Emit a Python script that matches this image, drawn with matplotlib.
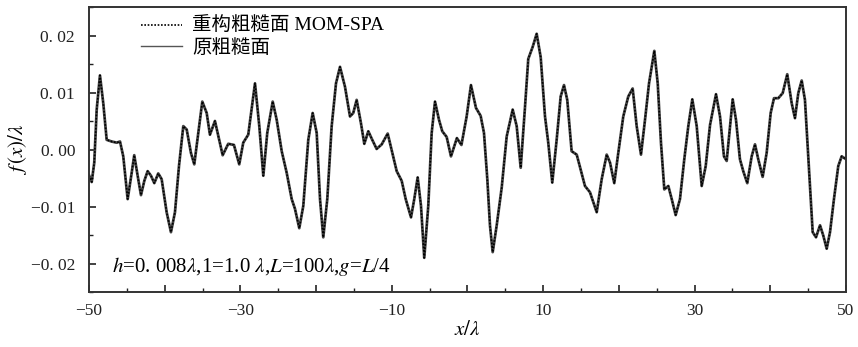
import numpy as np
import matplotlib
matplotlib.use('Agg')
import matplotlib.pyplot as plt
from matplotlib.ticker import MultipleLocator, FuncFormatter

plt.rcParams['font.family'] = ['Liberation Serif', 'Noto Sans CJK SC']
plt.rcParams['mathtext.fontset'] = 'stix'

# surface profile (x in units of lambda, f(x)/lambda)
x_pos = [-50.0, -49.64, -49.30, -48.98, -48.55, -48.11, -47.66, -47.00, -46.34, -45.90,
         -45.47, -44.89, -44.36, -44.02, -43.57, -43.13, -42.69, -42.25, -41.81, -41.37,
         -40.85, -40.40, -39.74, -39.17, -38.64, -38.11, -37.54, -37.09, -36.53, -36.09,
         -35.56, -35.03, -34.45, -34.02, -33.36, -32.34, -31.60, -30.85, -30.15, -29.62,
         -28.96, -28.07, -27.50, -26.97, -26.45, -25.73, -25.20, -24.54, -23.88, -23.22,
         -22.79, -22.22, -21.69, -21.03, -20.45, -19.92, -19.48, -19.05, -18.52, -17.94,
         -17.37, -16.84, -16.18, -15.52, -15.09, -14.64, -14.07, -13.63, -13.10, -12.58,
         -12.00, -11.33, -10.54, -9.93, -9.35, -8.69, -8.16, -7.46, -7.03, -6.58,
         -6.14, -5.71, -5.18, -4.73, -4.29, -3.76, -3.33, -2.75, -2.18, -1.40,
         -0.80, -0.11, 0.46, 1.12, 1.74, 2.18, 2.62, 2.97, 3.33, 3.86,
         4.52, 5.18, 5.97, 6.50, 7.03, 7.60, 8.03, 8.61, 9.14, 9.67,
         10.24, 10.67, 11.20, 11.78, 12.31, 12.75, 13.18, 13.76, 14.43, 14.95,
         15.52, 16.18, 17.07, 17.73, 18.39, 18.83, 19.39, 19.92, 20.58, 21.24,
         21.82, 22.35, 22.92, 23.45, 23.98, 24.68, 25.13, 25.56, 26.00, 26.53,
         26.98, 27.50, 28.07, 28.64, 29.17, 29.70, 30.28, 30.94, 31.47, 32.04,
         32.83, 33.36, 33.88, 34.24, 34.68, 35.03, 35.47, 35.99, 36.43, 36.96,
         37.54, 37.98, 38.41, 38.99, 39.52, 40.05, 40.49, 41.06, 41.64, 42.24,
         42.83, 43.26, 43.70, 44.15, 44.58, 44.89, 45.24, 45.60, 46.04, 46.57,
         47.00, 47.45, 47.89, 48.41, 48.98, 49.43, 50.0]

f_orig = [-0.0045, -0.0057, -0.0023, 0.0070, 0.0130, 0.0081, 0.0017, 0.0014, 0.0012, 0.0014,
          -0.0012, -0.0087, -0.0041, -0.0010, -0.0046, -0.0080, -0.0055, -0.0038, -0.0046, -0.0059,
          -0.0042, -0.0052, -0.0110, -0.0145, -0.0110, -0.0029, 0.0041, 0.0035, -0.0006, -0.0026,
          0.0029, 0.0084, 0.0064, 0.0026, 0.0050, -0.0010, 0.0010, 0.0008, -0.0026, 0.0012,
          0.0026, 0.0116, 0.0041, -0.0046, 0.0029, 0.0084, 0.0052, -0.0003, -0.0041, -0.0087,
          -0.0104, -0.0138, -0.0099, 0.0017, 0.0064, 0.0029, -0.0087, -0.0154, -0.0087, 0.0041,
          0.0116, 0.0145, 0.0110, 0.0058, 0.0064, 0.0087, 0.0046, 0.0010, 0.0032, 0.0017,
          0.0001, 0.0009, 0.0028, -0.0006, -0.0038, -0.0055, -0.0087, -0.0119, -0.0087, -0.0049,
          -0.0099, -0.0190, -0.0099, 0.0029, 0.0084, 0.0052, 0.0032, 0.0022, -0.0012, 0.0020,
          0.0008, 0.0058, 0.0113, 0.0073, 0.0059, 0.0029, -0.0052, -0.0133, -0.0180, -0.0133,
          -0.0067, 0.0023, 0.0070, 0.0041, -0.0032, 0.0075, 0.0159, 0.0180, 0.0203, 0.0162,
          0.0058, 0.0012, -0.0058, 0.0017, 0.0093, 0.0113, 0.0087, -0.0003, -0.0009, -0.0035,
          -0.0064, -0.0075, -0.0110, -0.0052, -0.0009, -0.0023, -0.0059, -0.0006, 0.0058, 0.0093,
          0.0107, 0.0041, -0.0009, 0.0052, 0.0116, 0.0173, 0.0116, 0.0012, -0.0070, -0.0064,
          -0.0087, -0.0115, -0.0087, -0.0017, 0.0041, 0.0088, 0.0041, -0.0064, -0.0029, 0.0043,
          0.0097, 0.0058, -0.0012, -0.0020, 0.0041, 0.0088, 0.0052, -0.0017, -0.0038, -0.0059,
          -0.0012, 0.0009, -0.0017, -0.0048, -0.0006, 0.0064, 0.0090, 0.0090, 0.0099, 0.0132,
          0.0081, 0.0055, 0.0099, 0.0121, 0.0087, 0.0017, -0.0064, -0.0145, -0.0154, -0.0133,
          -0.0151, -0.0174, -0.0145, -0.0087, -0.0029, -0.0012, -0.0017]

# reconstruction overlaps the original to within line width
f_recon = list(f_orig)

y_ticks = [-0.02, -0.01, 0.0, 0.01, 0.02]
y_labels = ['\u22120. 02', '\u22120. 01', '0. 00', '0. 01', '0. 02']

fig = plt.figure(figsize=(8.58, 3.47), dpi=100)
ax = fig.add_axes([0.1037, 0.1585, 0.8823, 0.8213])

ax.plot(x_pos, f_orig, color='#444444', linewidth=2.0, solid_joinstyle='round',
        label='原粗糙面')
ax.plot(x_pos, f_recon, color='black', linewidth=1.2, linestyle=(0, (1, 1)),
        label='重构粗糙面 MOM-SPA')

ax.set_xlim(-50, 50)
ax.set_ylim(-0.025, 0.025)

ax.xaxis.set_major_locator(MultipleLocator(10))
ax.xaxis.set_minor_locator(MultipleLocator(5))
ax.xaxis.set_major_formatter(FuncFormatter(
    lambda v, p: (('\u2212' if v < 0 else '') + '%d' % abs(v)) if int(round(v)) % 20 != 0 else ''))
ax.set_yticks(y_ticks)
ax.set_yticklabels(y_labels)
ax.yaxis.set_minor_locator(MultipleLocator(0.005))

ax.tick_params(which='both', direction='in', top=False, right=False,
               labelsize=12.5, colors='#222222')
ax.tick_params(axis='x', which='major', pad=8)
ax.tick_params(axis='y', which='major', pad=10)
ax.tick_params(which='major', length=5, width=1.2)
ax.tick_params(which='minor', length=3, width=1.0)
for s in ax.spines.values():
    s.set_linewidth(1.4)
    s.set_color('#333333')

ax.set_xlabel(r'$x/\lambda$', fontsize=15, labelpad=1)
ax.set_ylabel(r'$f\,(x)/\lambda$', fontsize=15, labelpad=1)

h, l = ax.get_legend_handles_labels()
leg = ax.legend(h[::-1], l[::-1], loc='upper left', bbox_to_anchor=(0.046, 1.025),
                frameon=False, fontsize=14, handlelength=2.1, handletextpad=0.5,
                labelspacing=0.2)
leg.get_lines()[1].set_linewidth(1.0)
leg.get_lines()[1].set_color('#555555')

ax.text(-46.9, -0.0205, r'$h$=0. 008$\lambda$,1=1.0 $\lambda$,$L$=100$\lambda$,$g$=$L$/4',
        fontsize=15, va='center', ha='left')

fig.savefig('out.png', dpi=100)
